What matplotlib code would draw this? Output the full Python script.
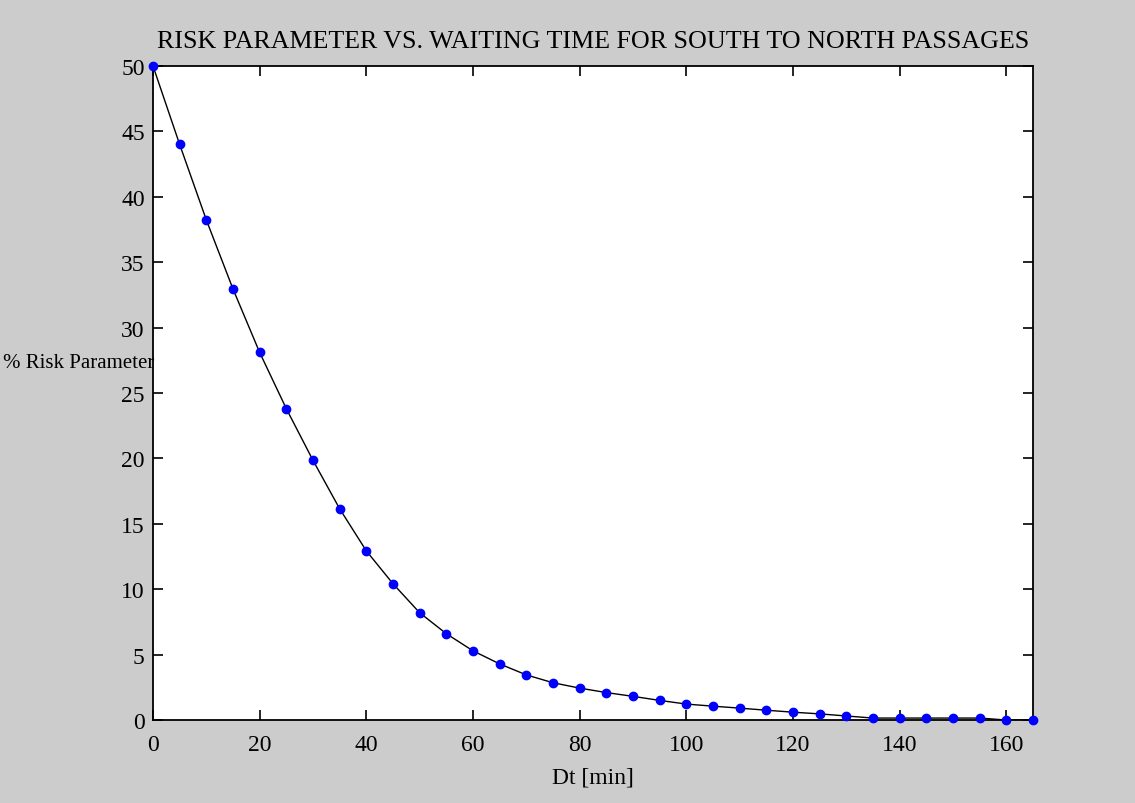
import matplotlib
matplotlib.use('Agg')
import matplotlib.pyplot as plt

# waiting time [min] and risk parameter [%]
wait_min = [0, 5, 10, 15, 20, 25, 30, 35, 40, 45, 50, 55, 60, 65, 70, 75, 80,
            85, 90, 95, 100, 105, 110, 115, 120, 125, 130, 135, 140, 145, 150,
            155, 160, 165]
risk_pct = [50.0, 44.0, 38.23, 32.95, 28.1, 23.8, 19.85, 16.15, 12.93, 10.42,
            8.2, 6.6, 5.29, 4.29, 3.45, 2.85, 2.44, 2.1, 1.81, 1.5, 1.22, 1.06,
            0.91, 0.75, 0.6, 0.47, 0.31, 0.15, 0.15, 0.15, 0.15, 0.15, 0.0, 0.0]

x_ticks = list(range(0, 161, 20))
y_ticks = list(range(0, 51, 5))

plt.rcParams['font.family'] = ['Liberation Serif', 'DejaVu Serif']

fig = plt.figure(figsize=(11.35, 8.04), dpi=100, facecolor='#cccccc')
ax = fig.add_axes([0.1348, 0.1032, 0.7753, 0.8135])
ax.set_facecolor('white')

ax.plot(wait_min, risk_pct, color='black', linewidth=1.0, zorder=2)
ax.plot(wait_min, risk_pct, linestyle='none', marker='o', markersize=6,
        color='blue', zorder=3, clip_on=False)

ax.set_xlim(0, 165)
ax.set_ylim(0, 50)
ax.set_xticks(x_ticks)
ax.set_yticks(y_ticks)
ax.tick_params(axis='both', direction='in', top=True, right=True, length=7,
               width=1.2, labelsize=17)
ax.tick_params(axis='x', pad=10)
ax.tick_params(axis='y', pad=6)
for side in ax.spines.values():
    side.set_linewidth(1.3)

ax.set_title('RISK PARAMETER VS. WAITING TIME FOR SOUTH TO NORTH PASSAGES',
             fontsize=18.7, pad=14)
ax.set_xlabel('Dt [min]', fontsize=17, labelpad=8)
ax.set_ylabel('% Risk Parameter', fontsize=15, rotation=0, ha='center',
              va='center')
ax.yaxis.set_label_coords(-0.084, 0.547)

fig.savefig('out.png', dpi=100, facecolor=fig.get_facecolor())
